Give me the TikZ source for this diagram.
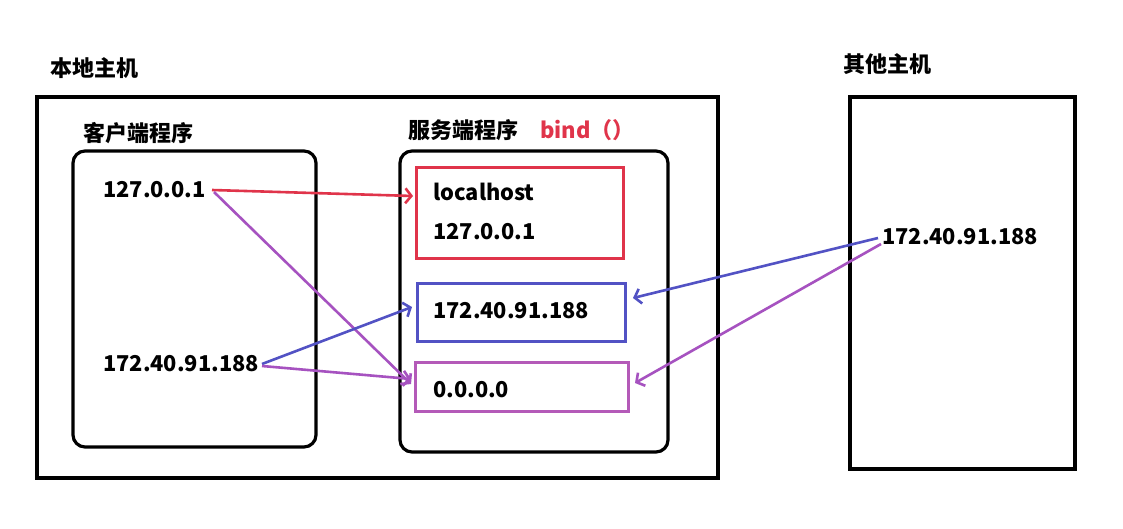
\documentclass[tikz,border=0pt]{standalone}
\usepackage{fontspec}
\setmainfont{Noto Sans CJK SC}
\usetikzlibrary{arrows.meta}
\definecolor{cred}{HTML}{E0344A}
\definecolor{cblue}{HTML}{5252C4}
\definecolor{cpurp}{HTML}{A652C0}
\definecolor{cpbox}{HTML}{B45AB8}
\begin{document}
\begin{tikzpicture}[x=1pt,y=-1pt,
  box/.style={draw=black,line width=3.2pt,minimum width=#1,inner sep=0pt},
  cbox/.style={draw=#1,line width=3pt,inner sep=0pt},
  lbl/.style={anchor=west,inner sep=0pt,font=\fontsize{22}{26}\selectfont\bfseries},
  txt/.style={anchor=west,inner sep=0pt,font=\fontsize{21.8}{26}\selectfont\bfseries},
  arr/.style={line width=2.6pt,-{Straight Barb[length=6pt,width=15pt,line width=2.6pt]}}
]
\useasboundingbox[fill=white] (0,0) rectangle (1123,529);
% boxes
\node[box=681pt,minimum height=381pt] (local) at (377.5,287.5) {};
\node[box=243pt,minimum height=296pt,rounded corners=12pt] (client) at (194.5,299) {};
\node[box=268pt,minimum height=301pt,rounded corners=12pt] (server) at (534,301.5) {};
\node[cbox=cred,minimum width=207pt,minimum height=90pt] (redbox) at (519.5,213) {};
\node[cbox=cblue,minimum width=208pt,minimum height=58pt] (bluebox) at (521,312) {};
\node[cbox=cpbox,minimum width=213pt,minimum height=49pt] (purpbox) at (521.5,386.5) {};
\node[box=225pt,minimum height=372pt] (other) at (962.5,283) {};
% labels
\node[lbl] (tlocal) at (50,68) {本地主机};
\node[lbl] (tclient) at (83,133) {客户端程序};
\node[lbl] (tserver) at (408,130) {服务端程序};
\node[lbl,text=cred] (tbind) at (540,130) {bind（）};
\node[lbl] (tother) at (843,64) {其他主机};
% texts
\node[txt] (c127) at (103,190) {127.0.0.1};
\node[txt] (c172) at (103,364) {172.40.91.188};
\node[txt] (slocal) at (433,192) {localhost};
\node[txt] (s127) at (433,232) {127.0.0.1};
\node[txt] (s172) at (433,311) {172.40.91.188};
\node[txt] (s000) at (433,390) {0.0.0.0};
\node[txt] (o172) at (882,237) {172.40.91.188};
% connector points
\coordinate (p1) at (212,190);
\coordinate (p2) at (214,192);
\coordinate (p3) at (262,364);
\coordinate (p4) at (262,366);
\coordinate (p5) at (878,238);
\coordinate (p6) at (881,244);
\coordinate (e1) at (413,196);
\coordinate (e2) at (411,384);
\coordinate (e3) at (412,307);
\coordinate (e4) at (411,379);
\coordinate (e5) at (633,298);
\coordinate (e6) at (635,383);
% arrows
\draw[arr,cred] (p1) -- (e1);
\draw[arr,cpurp] (p2) -- (e2);
\draw[arr,cblue] (p3) -- (e3);
\draw[arr,cpurp] (p4) -- (e4);
\draw[arr,cblue] (p5) -- (e5);
\draw[arr,cpurp] (p6) -- (e6);
\end{tikzpicture}
\end{document}
